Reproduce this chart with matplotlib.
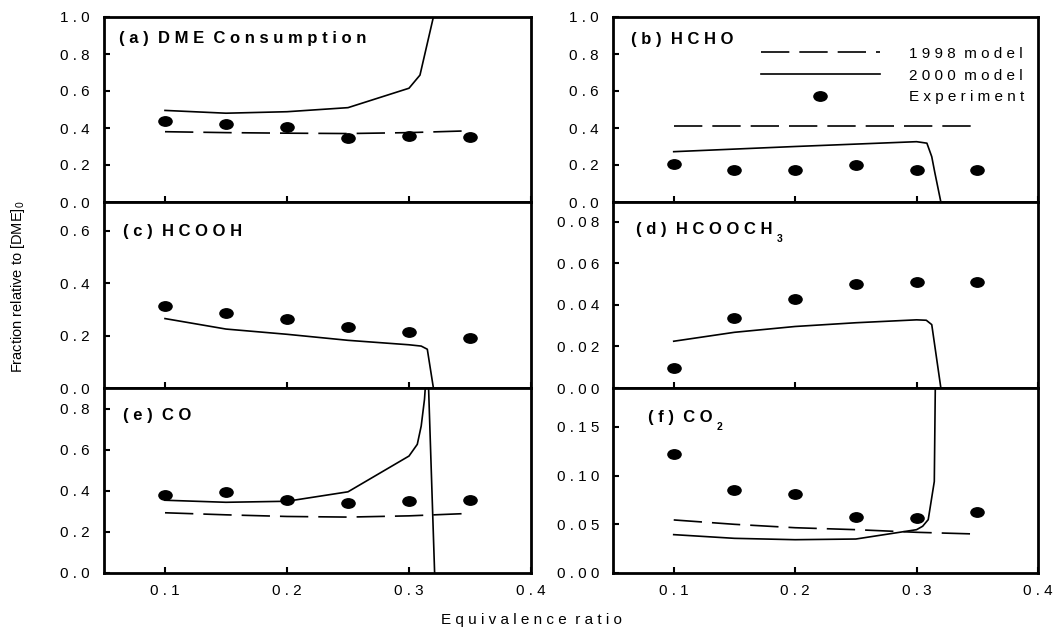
import numpy as np
import matplotlib
matplotlib.use("Agg")
import matplotlib.pyplot as plt
from matplotlib.path import Path
from matplotlib.transforms import Affine2D

plt.rcParams["font.family"] = ["Liberation Sans", "DejaVu Sans"]
plt.rcParams["mathtext.fontset"] = "custom"
plt.rcParams["mathtext.rm"] = "Liberation Sans"

# experiment and 1998 model share the same equivalence ratios
phi_exp = [0.1, 0.15, 0.2, 0.25, 0.3, 0.35]

# (a) DME consumption
dme_exp = [0.438, 0.422, 0.403, 0.347, 0.357, 0.352]
dme_1998 = [0.38, 0.375, 0.372, 0.37, 0.375, 0.385]
dme_2000_phi = [0.1, 0.15, 0.2, 0.25, 0.3, 0.309, 0.32]
dme_2000 = [0.495, 0.48, 0.488, 0.51, 0.615, 0.686, 1.0]

# (b) HCHO
hcho_exp = [0.204, 0.175, 0.172, 0.198, 0.172, 0.175]
hcho_1998 = [0.41, 0.41, 0.41, 0.41, 0.41, 0.41]
hcho_2000_phi = [0.1, 0.15, 0.2, 0.25, 0.3, 0.3085, 0.3125, 0.315, 0.32]
hcho_2000 = [0.272, 0.286, 0.3, 0.313, 0.326, 0.318, 0.245, 0.16, 0.0]

# (c) HCOOH
hcooh_exp = [0.313, 0.287, 0.263, 0.234, 0.215, 0.192]
hcooh_2000_phi = [0.1, 0.15, 0.2, 0.25, 0.3, 0.31, 0.315, 0.32]
hcooh_2000 = [0.265, 0.225, 0.205, 0.182, 0.165, 0.16, 0.148, 0.0]

# (d) HCOOCH3
mf_exp = [0.0096, 0.0339, 0.0427, 0.050, 0.0508, 0.051]
mf_2000_phi = [0.1, 0.15, 0.2, 0.25, 0.3, 0.308, 0.3125, 0.32]
mf_2000 = [0.0225, 0.0268, 0.0296, 0.0314, 0.0328, 0.0326, 0.0305, 0.0]

# (e) CO
co_exp = [0.379, 0.393, 0.356, 0.341, 0.348, 0.357]
co_1998 = [0.293, 0.283, 0.275, 0.272, 0.278, 0.29]
co_2000_phi = [0.1, 0.15, 0.2, 0.25, 0.3, 0.3068, 0.31, 0.3127, 0.3145, 0.3155, 0.321]
co_2000 = [0.354, 0.344, 0.349, 0.395, 0.569, 0.626, 0.715, 0.845, 1.0, 1.0, 0.0]

# (f) CO2
co2_exp = [0.1226, 0.0853, 0.0808, 0.0572, 0.0562, 0.063]
co2_1998 = [0.0545, 0.050, 0.0465, 0.0445, 0.0418, 0.040]
co2_2000_phi = [0.1, 0.15, 0.2, 0.25, 0.3, 0.305, 0.3096, 0.3146, 0.3155]
co2_2000 = [0.0394, 0.0356, 0.0342, 0.0349, 0.0445, 0.048, 0.0548, 0.094, 0.2]

x_ticks = [0.1, 0.2, 0.3, 0.4]


def spaced(s):
    # wide letter tracking like the original plotting package
    return "  ".join(" ".join(w) for w in s.split(" "))


W, H = 1060, 634
fig = plt.figure(figsize=(W / 100, H / 100), dpi=100)


def px_axes(x0, x1, y0, y1):
    return fig.add_axes([x0 / W, 1 - y1 / H, (x1 - x0) / W, (y1 - y0) / H])


col_x = [(104, 531), (613, 1038)]
row_y = [(17, 202), (202, 388), (388, 573)]

ell = Path.unit_circle().transformed(Affine2D().scale(1.4, 1.0))
dash = (0, (17, 6))

panels = [
    # name, sub, exp, 1998, (phi2000, y2000), ylim, yticks, fmt
    ("(a) DME Consumption", "", dme_exp, dme_1998, (dme_2000_phi, dme_2000),
     1.0, np.arange(0, 1.01, 0.2), "{:.1f}"),
    ("(b) HCHO", "", hcho_exp, hcho_1998, (hcho_2000_phi, hcho_2000),
     1.0, np.arange(0, 1.01, 0.2), "{:.1f}"),
    ("(c) HCOOH", "", hcooh_exp, None, (hcooh_2000_phi, hcooh_2000),
     0.71, np.arange(0, 0.61, 0.2), "{:.1f}"),
    ("(d) HCOOCH", "3", mf_exp, None, (mf_2000_phi, mf_2000),
     0.0895, np.arange(0, 0.081, 0.02), "{:.2f}"),
    ("(e) CO", "", co_exp, co_1998, (co_2000_phi, co_2000),
     0.90, np.arange(0, 0.81, 0.2), "{:.1f}"),
    ("(f) CO", "2", co2_exp, co2_1998, (co2_2000_phi, co2_2000),
     0.19, np.arange(0, 0.151, 0.05), "{:.2f}"),
]
label_pos = [(0.035, 0.886), (0.042, 0.876), (0.045, 0.844),
             (0.054, 0.85), (0.045, 0.854), (0.082, 0.838)]

axes = []
for i, (name, sub, exp, m98, m00, ytop, yt, fmt) in enumerate(panels):
    r, c = i // 2, i % 2
    ax = px_axes(col_x[c][0], col_x[c][1], row_y[r][0], row_y[r][1])
    axes.append(ax)
    l98 = None
    if m98 is not None:
        (l98,) = ax.plot(phi_exp, m98, color="black", lw=1.2, linestyle=dash)
    (l00,) = ax.plot(m00[0], m00[1], color="black", lw=1.2)
    (lexp,) = ax.plot(phi_exp, exp, linestyle="none", marker=ell,
                      markersize=9.5, color="black")
    ax.set_xlim(0.05, 0.4)
    ax.set_ylim(0, ytop)
    ax.set_xticks(x_ticks)
    ax.set_yticks(yt, labels=[spaced(fmt.format(v)) for v in yt])
    if r == 2:
        ax.set_xticklabels([spaced(f"{v:.1f}") for v in x_ticks])
    else:
        ax.set_xticklabels([])
    ax.tick_params(direction="in", length=4, width=1.5, labelsize=11)
    ax.tick_params(axis="x", pad=8)
    ax.tick_params(axis="y", pad=10)
    for sp in ax.spines.values():
        sp.set_linewidth(2.0)
    t = ax.text(label_pos[i][0], label_pos[i][1], spaced(name),
                transform=ax.transAxes, fontsize=12, fontweight="bold",
                va="center", ha="left")
    if sub:
        ax.annotate(sub, xy=(1, 0), xycoords=t, xytext=(3, -1),
                    textcoords="offset points", fontsize=7.5,
                    fontweight="bold", va="center", ha="left")
    if i == 1:
        ax.legend([l98, l00, lexp],
                  [spaced("1998 model"), spaced("2000 model"), spaced("Experiment")],
                  loc="upper left", bbox_to_anchor=(0.348, 0.84),
                  frameon=False, fontsize=11, handlelength=7.8,
                  handletextpad=1.9, labelspacing=0.52, borderpad=0,
                  borderaxespad=0)

fig.text(531 / W, 1 - 620 / H, spaced("Equivalence ratio"), fontsize=11,
         ha="center", va="center")
fig.text(18 / W, 1 - 287 / H, r"Fraction relative to [DME]$_\mathregular{0}$",
         fontsize=10.5, rotation=90, ha="center", va="center")

fig.savefig("out.png", dpi=100)
